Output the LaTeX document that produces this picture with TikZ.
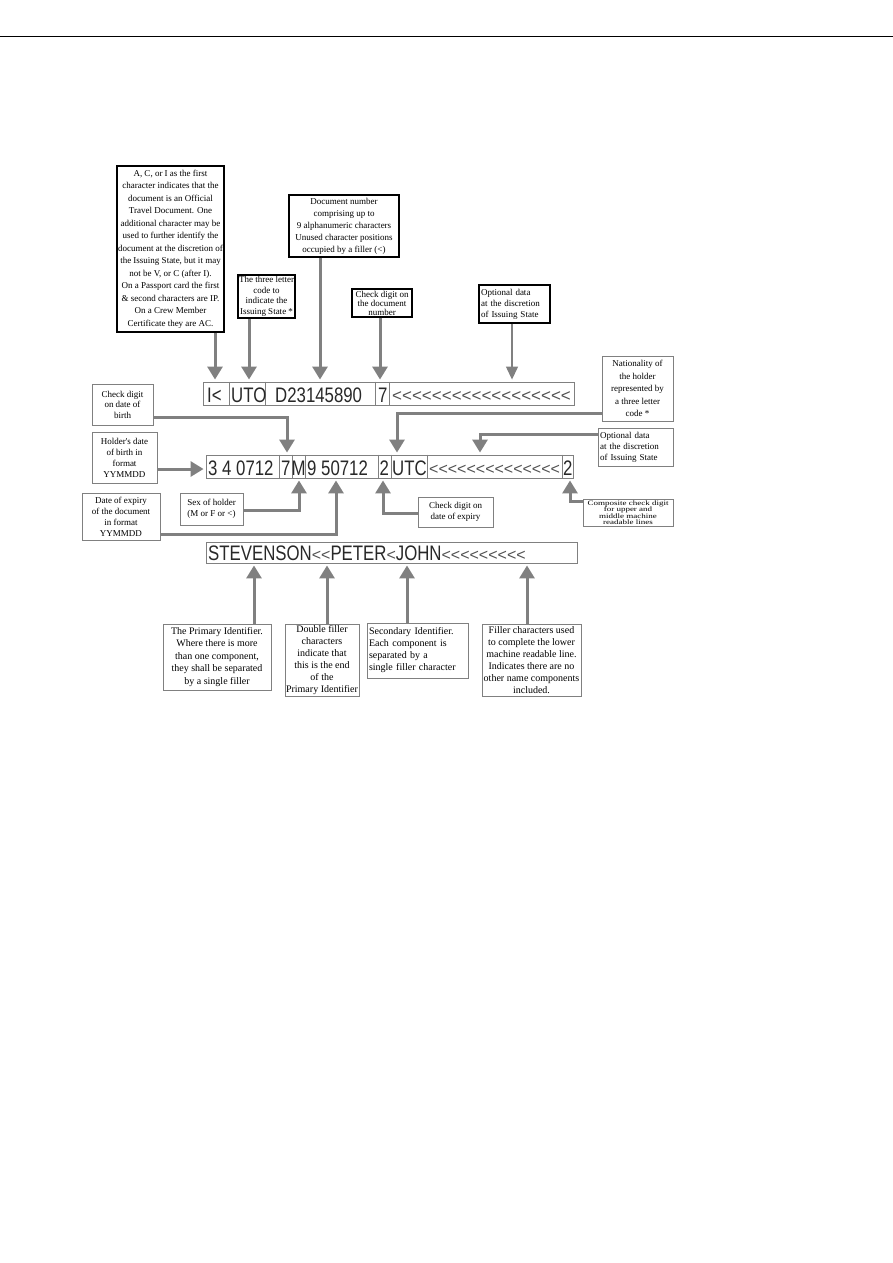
\documentclass[tikz,border=0pt]{standalone}
\usepackage{fontspec}
\usepackage{graphicx}
\usetikzlibrary{arrows.meta}
\newfontfamily\notefont{Liberation Serif}
\newfontfamily\mrzfont[FakeStretch=0.8]{Liberation Sans}
\newfontfamily\chevfont{Liberation Sans}
\definecolor{arrgray}{RGB}{128,128,128}
\definecolor{boxgray}{RGB}{128,128,128}
\definecolor{mrzink}{RGB}{40,40,40}
\definecolor{chevink}{RGB}{80,80,80}
\newcommand\chevs[2][16]{{\chevfont\fontsize{#1}{#1}\selectfont\color{chevink}#2}}
\begin{document}
\begin{tikzpicture}[x=1pt,y=-1pt,
  box/.style={draw=boxgray, line width=0.9pt, fill=white, inner sep=1pt, align=center,
              font=\notefont\fontsize{9}{12.5}\selectfont},
  kbox/.style={box, draw=black, line width=1.1pt},
  lead/.style={font=\notefont\fontsize{9}{#1}\selectfont},
  bigfont/.style={font=\notefont\fontsize{10}{#1}\selectfont},
  arr/.style={draw=arrgray, line width=3pt, line join=miter, -{Triangle[width=15pt,length=13pt]}, shorten >=2pt},
  tarr/.style={draw=arrgray, line width=1.3pt, -{Triangle[width=12pt,length=13pt]}, shorten >=2pt},
  row/.style={draw=boxgray, line width=0.9pt, inner sep=0pt},
  sep/.style={draw=boxgray, line width=0.9pt},
  mrz/.style={inner sep=0pt, anchor=base west, text=mrzink, font=\mrzfont\fontsize{21}{21}\selectfont}
]
\useasboundingbox (0,0) rectangle (893,1263);
\coordinate (ruleL) at (0,36.5);
\coordinate (ruleR) at (893,36.5);
\draw[line width=1.3pt] (ruleL) -- (ruleR);

% ---------- MRZ rows ----------
\node[row, minimum width=371pt, minimum height=23pt] (l1) at (388.5,393.5) {};
\node[row, minimum width=367pt, minimum height=23pt] (l2) at (389.5,466.5) {};
\node[row, minimum width=371pt, minimum height=21pt] (l3) at (391.5,552.5) {};

% line 1 dividers and text
\foreach \d in {229.5,265.5,375.5,389}{
  \draw[sep] (l1.north -| \d,0) -- (l1.south -| \d,0);
}
\node[mrz] (t11) at (207,402) {I<};
\node[mrz] (t12) at (231,402) {UTO};
\node[mrz] (t13) at (275,402) {D23145890};
\node[mrz] (t14) at (378,402) {7};
\node[mrz] (t15) at (392,401) {\chevs[17]{<<<<<<<<<<<<<<<<<<}};

% line 2 dividers and text
\foreach \d in {279,292,305,378,391,427,562}{
  \draw[sep] (l2.north -| \d,0) -- (l2.south -| \d,0);
}
\node[mrz] (t21) at (208,475) {3 4 0712};
\node[mrz] (t22) at (281,475) {7};
\node[mrz] (t23) at (291.5,475) {M};
\node[mrz] (t24) at (307,475) {9 50712};
\node[mrz] (t25) at (379.5,475) {2};
\node[mrz] (t26) at (392,475) {UTC};
\node[mrz] (t27) at (429,474) {\chevs{<<<<<<<<<<<<<<}};
\node[mrz] (t28) at (563,475) {2};

% line 3 text
\node[mrz] (t31) at (208,560) {STEVENSON\chevs{<<}PETER\chevs{<}JOHN\chevs{<<<<<<<<<}};

% ---------- upper annotation boxes ----------
\node[kbox, minimum width=107pt, minimum height=166pt] (big) at (170.5,249)
 {A, C, or I as the first\\character indicates that the\\document is an Official\\Travel Document. One\\additional character may be\\used to further identify the\\document at the discretion of\\the Issuing State, but it may\\not be V, or C (after I).\\On a Passport card the first\\\& second characters are IP.\\On a Crew Member\\Certificate they are AC.};
\node[kbox, lead=10.5, minimum width=57pt, minimum height=43pt] (three) at (266.5,296.5)
 {The three letter\\code to\\indicate the\\Issuing State *};
\node[kbox, lead=12, minimum width=110pt, minimum height=62pt] (doc) at (344,226)
 {Document number\\comprising up to\\9 alphanumeric characters\\Unused character positions\\occupied by a filler (<)};
\node[kbox, lead=9, minimum width=60pt, minimum height=28pt] (chk) at (382,303)
 {Check digit on\\the document\\number};
\node[kbox, lead=11, align=left, inner sep=2pt, text width=67pt, minimum height=38pt] (opt1) at (514.5,304)
 {Optional data\\at the discretion\\of Issuing State};

% ---------- middle annotation boxes ----------
\node[box, lead=12.5, minimum width=71pt, minimum height=65pt] (nat) at (637.5,388.5)
 {Nationality of\\the holder\\represented by\\a three letter\\code *};
\node[box, lead=10.5, minimum width=61pt, minimum height=41pt] (cdob) at (122.5,404.5)
 {Check digit\\on date of\\birth};
\node[box, lead=11, minimum width=65pt, minimum height=51pt] (hdob) at (124.5,457.5)
 {Holder's date\\of birth in\\format\\YYMMDD};
\node[box, lead=11, minimum width=78pt, minimum height=47pt] (doe) at (121,516.5)
 {Date of expiry\\of the document\\in format\\YYMMDD};
\node[box, lead=11, minimum width=63pt, minimum height=32pt] (sex) at (211.5,509)
 {Sex of holder\\(M or F or <)};
\node[box, lead=10.5, minimum width=75pt, minimum height=30pt] (cde) at (455.5,512)
 {Check digit on\\date of expiry};
\node[box, lead=11, align=left, inner sep=2pt, text width=71pt, minimum height=38pt] (opt2) at (635.5,447)
 {Optional data\\at the discretion\\of Issuing State};
\node[box, minimum width=90pt, minimum height=27pt, inner sep=0pt] (comp) at (628,512.5)
 {\scalebox{1}[0.75]{\parbox{88pt}{\centering\fontsize{9}{8.5}\selectfont Composite check digit\\for upper and\\middle machine\\readable lines}}};

% ---------- lower annotation boxes ----------
\node[box, bigfont=12.5, minimum width=108pt, minimum height=66pt] (prim) at (217,657)
 {The Primary Identifier.\\Where there is more\\than one component,\\they shall be separated\\by a single filler};
\node[box, bigfont=12, minimum width=74pt, minimum height=72pt] (dbl) at (322,660)
 {Double filler\\characters\\indicate that\\this is the end\\of the\\Primary Identifier};
\node[box, bigfont=12, align=left, inner sep=2pt, text width=97pt, minimum height=55pt] (sec) at (417.5,650.5)
 {Secondary Identifier.\\Each component is\\separated by a\\single filler character};
\node[box, bigfont=12, minimum width=99pt, minimum height=72pt] (fill) at (531.5,660)
 {Filler characters used\\to complete the lower\\machine readable line.\\Indicates there are no\\other name components\\included.};

% ---------- connectors to line 1 ----------
\coordinate (a1) at (215,0);
\coordinate (a2) at (249,0);
\coordinate (a3) at (320,0);
\coordinate (a4) at (380,0);
\coordinate (a5) at (512,0);
\draw[arr] (big.south -| a1) -- (l1.north -| a1);
\draw[arr] (three.south -| a2) -- (l1.north -| a2);
\draw[arr] (doc.south -| a3) -- (l1.north -| a3);
\draw[arr] (chk.south -| a4) -- (l1.north -| a4);
\draw[tarr] (opt1.south -| a5) -- (l1.north -| a5);

% ---------- connectors to line 2 ----------
\coordinate (e6) at (397,413);
\coordinate (e7) at (287,417);
\coordinate (e8) at (0,469);
\coordinate (e9) at (336,534);
\coordinate (e10) at (299,510);
\coordinate (e11) at (383,513);
\coordinate (e12) at (480,434);
\coordinate (e13) at (570,501);
\draw[arr] (nat.west |- e6) -- (e6) -- (l2.north -| e6);
\draw[arr] (cdob.east |- e7) -- (e7) -- (l2.north -| e7);
\draw[arr] (hdob.east |- e8) -- (l2.west |- e8);
\draw[arr] (doe.east |- e9) -- (e9) -- (l2.south -| e9);
\draw[arr] (sex.east |- e10) -- (e10) -- (l2.south -| e10);
\draw[arr] (cde.west |- e11) -- (e11) -- (l2.south -| e11);
\draw[arr] (opt2.west |- e12) -- (e12) -- (l2.north -| e12);
\draw[arr] (comp.west |- e13) -- (e13) -- (l2.south -| e13);

% ---------- connectors to line 3 ----------
\coordinate (b1) at (254,0);
\coordinate (b2) at (327,0);
\coordinate (b3) at (407,0);
\coordinate (b4) at (527,0);
\draw[arr] (prim.north -| b1) -- (l3.south -| b1);
\draw[arr] (dbl.north -| b2) -- (l3.south -| b2);
\draw[arr] (sec.north -| b3) -- (l3.south -| b3);
\draw[arr] (fill.north -| b4) -- (l3.south -| b4);
\end{tikzpicture}
\end{document}
